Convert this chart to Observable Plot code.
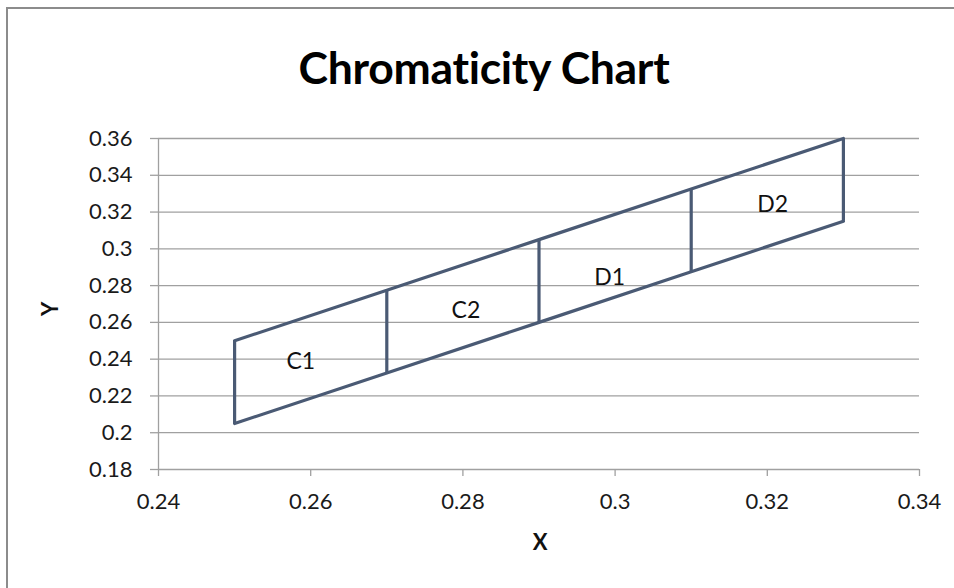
<!DOCTYPE html>
<html>
<head>
<meta charset="utf-8">
<script src="https://cdn.jsdelivr.net/npm/d3@7"></script>
<script src="https://cdn.jsdelivr.net/npm/@observablehq/plot@0.6"></script>
<style>
  html, body { margin: 0; padding: 0; background: #fff; }
  body { width: 954px; height: 588px; position: relative; overflow: hidden; font-family: Lato, "Open Sans", sans-serif; }
  #frame { position: absolute; left: 6px; top: 7px; width: 1000px; height: 700px; border-top: 2px solid #8c8c8c; border-left: 2px solid #8c8c8c; box-sizing: border-box; }
  #title { position: absolute; left: 234px; width: 500px; top: 42px; text-align: center; font-family: Lato, sans-serif; font-weight: 700; font-size: 44.5px; line-height: 50px; color: #000; letter-spacing: -0.3px; }
  #chart { position: absolute; left: 0; top: 100px; }
</style>
</head>
<body>
<div id="frame"></div>
<div id="title">Chromaticity Chart</div>
<div id="chart"></div>
<script>
// Boundary points of the chromaticity bins
const xs = [0.25, 0.27, 0.29, 0.31, 0.33];
const yTop = [0.25, 0.2775, 0.305, 0.3325, 0.36];
const yBottom = [0.205, 0.2325, 0.26, 0.2875, 0.315];

// Bin labels
const binNames = ["C1", "C2", "D1", "D2"];
const binLabelX = [0.2587, 0.2804, 0.2993, 0.3207];
const binLabelY = [0.2388, 0.2665, 0.2845, 0.3241];

// Axis ticks
const xTicks = [0.24, 0.26, 0.28, 0.3, 0.32, 0.34];
const yTicks = [0.18, 0.2, 0.22, 0.24, 0.26, 0.28, 0.3, 0.32, 0.34, 0.36];

const topLine = xs.map((x, i) => ({x, y: yTop[i]}));
const bottomLine = xs.map((x, i) => ({x, y: yBottom[i]}));
const dividers = xs.map((x, i) => ({x, y1: yBottom[i], y2: yTop[i]}));
const labels = binNames.map((name, i) => ({name, x: binLabelX[i], y: binLabelY[i]}));

const lineColor = "#4a5a74";
const gridColor = "#a0a0a0";

const chart = Plot.plot({
  width: 954,
  height: 488,
  marginLeft: 158,
  marginRight: 35,
  marginTop: 38,
  marginBottom: 119,
  style: { fontFamily: "Lato, 'Open Sans', sans-serif", fontSize: "22px", color: "#1a1a1a", background: "transparent" },
  x: { domain: [0.24, 0.34] },
  y: { domain: [0.18, 0.36] },
  marks: [
    Plot.ruleY(yTicks.slice(1), { x1: 0.24, x2: 0.34, stroke: gridColor, strokeWidth: 1.3 }),
    Plot.axisY({ ticks: yTicks, tickFormat: d => String(d), tickSize: 8, tickPadding: 18, stroke: gridColor, strokeWidth: 1.3, strokeOpacity: 1, label: null, fontSize: 22, fill: "#1a1a1a" }),
    Plot.axisX({ ticks: xTicks, tickFormat: d => String(d), tickSize: 7, tickPadding: 17, stroke: gridColor, strokeWidth: 1.3, strokeOpacity: 1, label: null, fontSize: 22, fill: "#1a1a1a" }),
    Plot.ruleX([0.24], { stroke: gridColor, strokeWidth: 1.3 }),
    Plot.ruleY([0.18], { stroke: gridColor, strokeWidth: 1.3 }),
    Plot.line(topLine, { x: "x", y: "y", stroke: lineColor, strokeWidth: 3.2 }),
    Plot.line(bottomLine, { x: "x", y: "y", stroke: lineColor, strokeWidth: 3.2 }),
    Plot.ruleX(dividers, { x: "x", y1: "y1", y2: "y2", stroke: lineColor, strokeWidth: 3.2 }),
    Plot.text(labels, { x: "x", y: "y", text: "name", fontSize: 23, fill: "#111" }),
    Plot.text(["X"], { frameAnchor: "bottom", dx: 1, dy: 80, text: d => d, fontSize: 22, fontWeight: "bold", fill: "#111" }),
    Plot.text(["Y"], { frameAnchor: "left", dx: -108, dy: 12, rotate: -90, text: d => d, fontSize: 22, fontWeight: "bold", fill: "#111" })
  ]
});
document.getElementById("chart").appendChild(chart);
</script>
</body>
</html>
